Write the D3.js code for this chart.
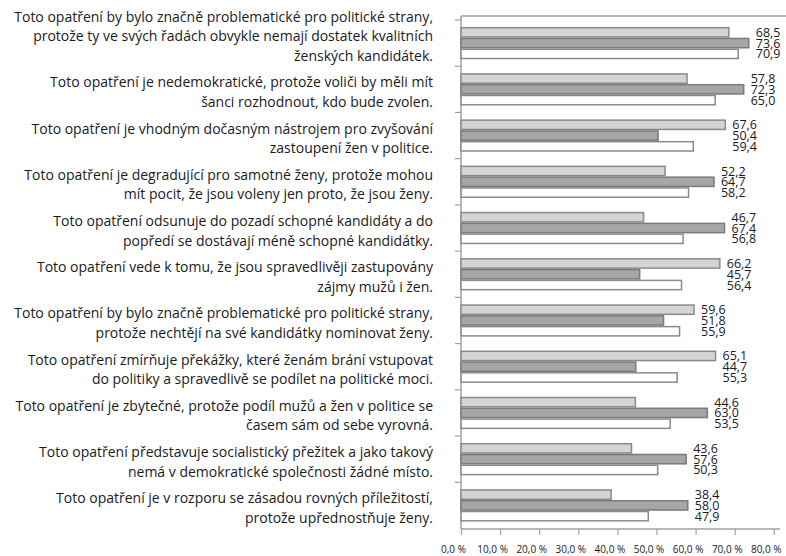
<!DOCTYPE html>
<html>
<head>
<meta charset="utf-8">
<script src="https://cdn.jsdelivr.net/npm/d3@7"></script>
<style>
  body { margin: 0; background: #fff; }
  svg { display: block; }
  text { font-family: "Open Sans", "Noto Sans", sans-serif; fill: #1a1a1a; }
</style>
</head>
<body>
<div id="chart"></div>
<script>
// category labels, already broken into lines as in the original
var categories = [
    ["Toto opatření by bylo značně problematické pro politické strany,", "protože ty ve svých řadách obvykle nemají dostatek kvalitních", "ženských kandidátek."],
    ["Toto opatření je nedemokratické, protože voliči by měli mít", "šanci rozhodnout, kdo bude zvolen."],
    ["Toto opatření je vhodným dočasným nástrojem pro zvyšování", "zastoupení žen v politice."],
    ["Toto opatření je degradující pro samotné ženy, protože mohou", "mít pocit, že jsou voleny jen proto, že jsou ženy."],
    ["Toto opatření odsunuje do pozadí schopné kandidáty a do", "popředí se dostávají méně schopné kandidátky."],
    ["Toto opatření vede k tomu, že jsou spravedlivěji zastupovány", "zájmy mužů i žen."],
    ["Toto opatření by bylo značně problematické pro politické strany,", "protože nechtějí na své kandidátky nominovat ženy."],
    ["Toto opatření zmírňuje překážky, které ženám brání vstupovat", "do politiky a spravedlivě se podílet na politické moci."],
    ["Toto opatření je zbytečné, protože podíl mužů a žen v politice se", "časem sám od sebe vyrovná."],
    ["Toto opatření představuje socialistický přežitek a jako takový", "nemá v demokratické společnosti žádné místo."],
    ["Toto opatření je v rozporu se zásadou rovných příležitostí,", "protože upřednostňuje ženy."]
];
// three series (light, dark, white bars)
var seriesA = [68.5, 57.8, 67.6, 52.2, 46.7, 66.2, 59.6, 65.1, 44.6, 43.6, 38.4];
var seriesB = [73.6, 72.3, 50.4, 64.7, 67.4, 45.7, 51.8, 44.7, 63.0, 57.6, 58.0];
var seriesC = [70.9, 65.0, 59.4, 58.2, 56.8, 56.4, 55.9, 55.3, 53.5, 50.3, 47.9];
var xTicks = [0, 10, 20, 30, 40, 50, 60, 70, 80];

var width = 786,
    height = 556;

var svg = d3.select("#chart")
    .append("svg")
    .attr("width", width)
    .attr("height", height);

var x = d3.scaleLinear().domain([0, 80]).range([461, 773.8]);

var y = d3.scaleBand()
    .domain(d3.range(categories.length))
    .range([20, 528.5])
    .paddingInner(0.3)
    .paddingOuter(0.15);

var seriesKeys = ["a", "b", "c"];
var yInner = d3.scaleBand().domain(seriesKeys).range([0, y.bandwidth()]);

var fills = { a: "#d4d4d4", b: "#a6a6a6", c: "#ffffff" };
var strokes = { a: "#8a8a8a", b: "#7a7a7a", c: "#8a8a8a" };

var rows = categories.map(function (c, i) {
    return { i: i, lines: c, a: seriesA[i], b: seriesB[i], c: seriesC[i] };
});

// frame / axes
var axisColor = "#a0a0a0";
svg.append("line")
    .attr("x1", x(0)).attr("x2", width)
    .attr("y1", 16).attr("y2", 16)
    .attr("stroke", axisColor).attr("stroke-width", 1.5);

svg.append("line")
    .attr("x1", x(0)).attr("x2", x(0))
    .attr("y1", 16).attr("y2", 529)
    .attr("stroke", axisColor).attr("stroke-width", 1.5);

// category boundary ticks on the left axis
var step = y.step();
var bounds = d3.range(categories.length).map(function (i) {
    return y(i) - step * 0.15;
});
svg.append("g").selectAll("line")
    .data(bounds)
    .enter()
    .append("line")
    .attr("x1", x(0) - 6).attr("x2", x(0))
    .attr("y1", function (d) { return d; })
    .attr("y2", function (d) { return d; })
    .attr("stroke", axisColor).attr("stroke-width", 1.2);

// bottom axis
var xAxis = svg.append("g")
    .attr("transform", "translate(0,529)")
    .call(d3.axisBottom(x)
        .tickValues(xTicks)
        .tickSize(6)
        .tickFormat(function (d) { return d.toFixed(1).replace(".", ",") + " %"; }));
xAxis.select(".domain").attr("stroke", axisColor).attr("stroke-width", 1.5)
    .attr("d", "M" + x(0) + ",0H780");
xAxis.selectAll(".tick line").attr("stroke", axisColor).attr("stroke-width", 1.2);
xAxis.selectAll(".tick text")
    .attr("y", 17)
    .attr("dx", -8)
    .style("font-family", "'Open Sans', sans-serif")
    .style("font-size", "10px")
    .attr("fill", "#1a1a1a");

// bars
var groups = svg.append("g").selectAll("g")
    .data(rows)
    .enter()
    .append("g")
    .attr("transform", function (d) { return "translate(0," + y(d.i) + ")"; });

groups.selectAll("rect")
    .data(function (d) { return seriesKeys.map(function (k) { return { key: k, value: d[k] }; }); })
    .enter()
    .append("rect")
    .attr("x", x(0))
    .attr("y", function (d) { return yInner(d.key) + 0.75; })
    .attr("width", function (d) { return x(d.value) - x(0); })
    .attr("height", yInner.bandwidth() - 1.5)
    .attr("fill", function (d) { return fills[d.key]; })
    .attr("stroke", function (d) { return strokes[d.key]; })
    .attr("stroke-width", 1.5);

// value labels, aligned after the longest bar of the group
groups.selectAll("text.val")
    .data(function (d) {
        var m = d3.max(seriesKeys, function (k) { return d[k]; });
        return seriesKeys.map(function (k) { return { key: k, value: d[k], max: m }; });
    })
    .enter()
    .append("text")
    .attr("class", "val")
    .attr("x", function (d) { return x(d.max) + 7; })
    .attr("y", function (d) { return yInner(d.key) + yInner.bandwidth() / 2; })
    .attr("dy", "0.36em")
    .style("font-size", "12.5px")
    .text(function (d) { return d.value.toFixed(1).replace(".", ","); });

// category labels
var lh = 19.5;
groups.append("text")
    .attr("text-anchor", "end")
    .style("font-size", "14px")
    .each(function (d) {
        var t = d3.select(this);
        var n = d.lines.length;
        var mid = Math.floor((n - 1) / 2);
        var c = y.bandwidth() / 2;
        d.lines.forEach(function (line, j) {
            t.append("tspan")
                .attr("x", 433)
                .attr("y", c - 2 + (j - mid) * lh)
                .text(line);
        });
    });
</script>
</body>
</html>
